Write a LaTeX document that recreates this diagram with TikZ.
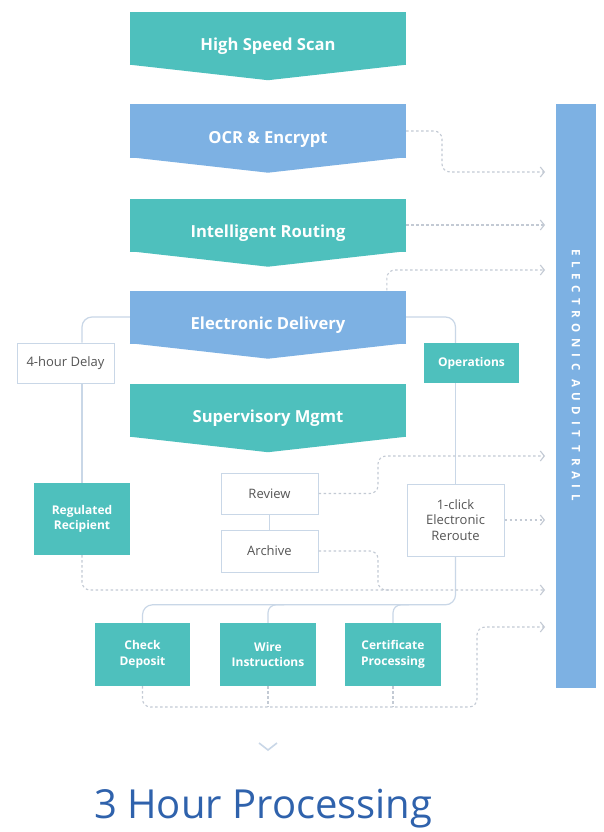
\documentclass[tikz,border=0pt]{standalone}
\usepackage{fontspec}
\setmainfont{Open Sans}
\usetikzlibrary{arrows.meta,calc}
\definecolor{teal1}{HTML}{4EC0BD}
\definecolor{blue1}{HTML}{7DB1E3}
\definecolor{dashc}{HTML}{C3CAD4}
\definecolor{linec}{HTML}{C9D7E7}
\definecolor{txtg}{HTML}{555555}
\definecolor{titlec}{HTML}{2F62AC}
\begin{document}
\begin{tikzpicture}[x=1pt,y=-1pt,
  chev/.style={minimum width=276pt,minimum height=53pt,inner sep=0pt},
  chevtext/.style={text=white,font=\bfseries\fontsize{16.6}{20}\selectfont,inner sep=0pt},
  wbox/.style={draw=linec,line width=1pt,fill=white,text=txtg,font=\fontsize{13}{15.5}\selectfont,align=center,inner sep=0pt},
  tbox/.style={fill=teal1,text=white,font=\bfseries\fontsize{12}{15.5}\selectfont,align=center,inner sep=0pt},
  dashline/.style={draw=dashc,line width=1.1pt,dash pattern=on 2.5pt off 2.5pt},
  toaudit/.style={dashline,-{Straight Barb[length=4pt,width=10pt,line width=1.1pt]}},
  conn/.style={draw=linec,line width=1.2pt}
]
\fill[white] (0,0) rectangle (603,832);
\useasboundingbox (0,0) rectangle (603,832);

% audit bar
\node[fill=blue1,minimum width=40pt,minimum height=584pt,inner sep=0pt] (bar) at (576,396) {};
\node[rotate=-90,text=white,inner sep=0pt,font=\bfseries\fontsize{11.5}{13}\selectfont\addfontfeatures{LetterSpace=49}] (bartext) at (576,375) {ELECTRONIC AUDIT TRAIL};

% chevrons
\newcommand\chevron[4]{%
  \node[chev,fill=#3] (#1) at (268,#2) {};
  \fill[#3] ($(#1.south west)+(0,-0.5)$) -- ($(#1.south east)+(0,-0.5)$) -- ($(#1.south)+(0,15)$) -- cycle;
  \node[chevtext] (#1-t) at ($(#1)+(0,8)$) {#4};}
\chevron{hss}{38.5}{teal1}{High Speed Scan}
\chevron{ocr}{131}{blue1}{OCR \& Encrypt}
\chevron{ir}{225}{teal1}{Intelligent Routing}
\chevron{ed}{317}{blue1}{Electronic Delivery}
\chevron{sm}{410.5}{teal1}{Supervisory Mgmt}

% boxes
\node[wbox,minimum width=97pt,minimum height=40pt] (delay) at (65.5,363) {4-hour Delay};
\node[tbox,minimum width=95pt,minimum height=40pt] (ops) at (471.5,363) {Operations};
\node[tbox,minimum width=96pt,minimum height=72pt] (rr) at (82,519) {Regulated\\Recipient};
\node[wbox,minimum width=97pt,minimum height=41pt] (review) at (269.5,493.5) {Review};
\node[wbox,minimum width=97pt,minimum height=42pt] (archive) at (269.5,551) {Archive};
\node[wbox,minimum width=97pt,minimum height=72pt] (reroute) at (455.5,520) {1-click\\Electronic\\Reroute};
\node[tbox,minimum width=95pt,minimum height=63pt] (check) at (142.5,654.5) {Check\\Deposit};
\node[tbox,minimum width=96pt,minimum height=63pt] (wire) at (268,654.5) {Wire\\Instructions};
\node[tbox,minimum width=96pt,minimum height=63pt] (cert) at (393,654.5) {Certificate\\Processing};

% audit targets
\coordinate (t1) at (545,172);
\coordinate (t2) at (545,225);
\coordinate (t3) at (545,270);
\coordinate (t4) at (545,456);
\coordinate (t5) at (545,520);
\coordinate (t6) at (545,590);
\coordinate (t7) at (545,627);
\coordinate (m6) at (392,590);

% solid connectors
\draw[conn,rounded corners=10pt] (ed.west) -| (rr.north |- delay.north);
\draw[conn] (rr.north |- delay.south) -- (rr.north);
\draw[conn,rounded corners=10pt] (ed.east) -| (reroute.north |- ops.north);
\draw[conn] (reroute.north |- ops.south) -- (reroute.north);
\draw[conn] (review.south) -- (archive.north);
\draw[conn,rounded corners=10pt] (reroute.south) |- ($(check.north)+(0,-18)$) -- (check.north);
\draw[conn,rounded corners=8pt] (wire.north) |- ++(16,-18);
\draw[conn,rounded corners=8pt] (cert.north) |- ++(16,-18);

% dashed audit connectors
\draw[toaudit,rounded corners=8pt] (ocr.east) -- (442,131) -- (442,172) -- (t1);
\draw[toaudit] (ir.east) -- (t2);
\draw[toaudit,rounded corners=8pt] ($(ed.north west)!0.93!(ed.north east)$) |- (t3);
\draw[toaudit,rounded corners=8pt] (review.east) -- (378,493.5) |- (t4);
\draw[toaudit] (reroute.east) -- (t5);
\draw[dashline,rounded corners=8pt] (archive.east) -- (378,551) |- (m6);
\draw[toaudit,rounded corners=8pt] (rr.south) |- (t6);
\draw[toaudit,rounded corners=8pt] (check.south) |- (477,707) |- (t7);
\draw[dashline] (wire.south) -- ++(0,21);
\draw[dashline] (cert.south) -- ++(0,21);

% down mark and title
\draw[draw=linec,line width=1.6pt] (259,743) -- (268,750) -- (277,743);
\node[anchor=base west,text=titlec,inner sep=0pt,font=\fontsize{40}{48}\selectfont] (title) at (94,818) {3 Hour Processing};
\end{tikzpicture}
\end{document}
